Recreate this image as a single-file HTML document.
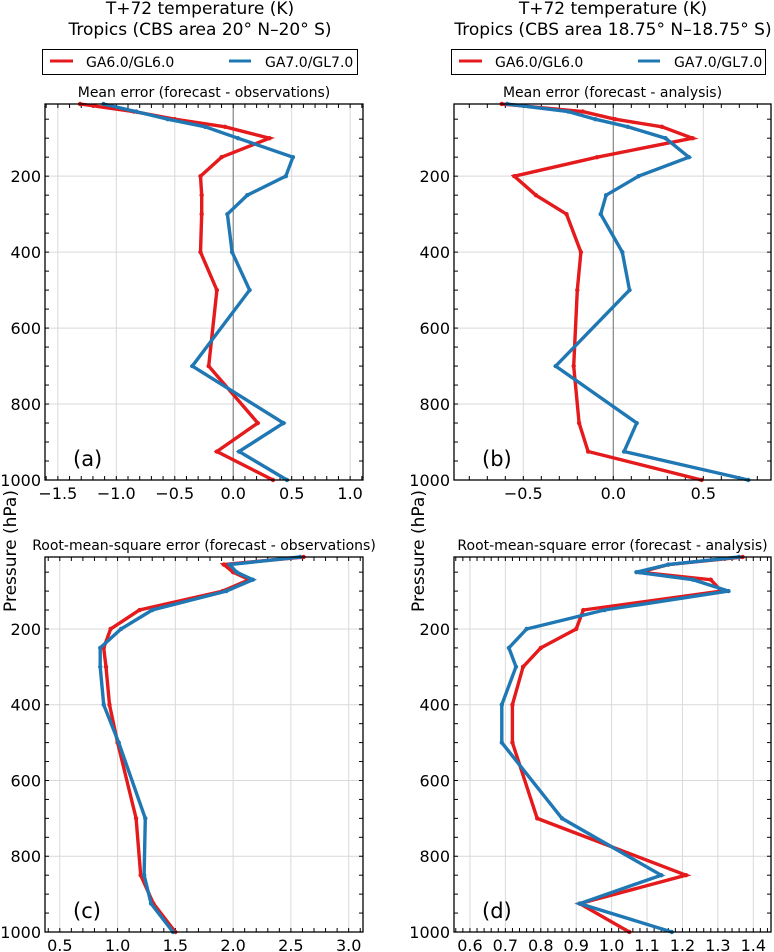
<!DOCTYPE html>
<html><head><meta charset="utf-8"><style>
html,body{margin:0;padding:0;background:#fff;width:774px;height:952px;overflow:hidden}
svg{display:block;font-family:"DejaVu Sans","Liberation Sans",sans-serif}
</style></head><body>
<svg id="chart" width="774" height="952" viewBox="0 0 774 952" xmlns="http://www.w3.org/2000/svg">
<text x="200" y="14" text-anchor="middle" font-size="17">T+72 temperature (K)</text>
<text x="200" y="35" text-anchor="middle" font-size="17">Tropics (CBS area 20° N–20° S)</text>
<text x="613" y="14" text-anchor="middle" font-size="17">T+72 temperature (K)</text>
<text x="613" y="35" text-anchor="middle" font-size="17">Tropics (CBS area 18.75° N–18.75° S)</text>
<g>
<rect x="42.5" y="49.5" width="315" height="25" fill="#fff" stroke="#000" stroke-width="1"/>
<line x1="50" y1="61" x2="73" y2="61" stroke="#e41a1c" stroke-width="3"/>
<text x="86" y="67" font-size="14">GA6.0/GL6.0</text>
<line x1="229" y1="61" x2="251" y2="61" stroke="#1f78b4" stroke-width="3"/>
<text x="265" y="67" font-size="14">GA7.0/GL7.0</text>
</g>
<g>
<rect x="451.5" y="49.5" width="314" height="25" fill="#fff" stroke="#000" stroke-width="1"/>
<line x1="459" y1="61" x2="482" y2="61" stroke="#e41a1c" stroke-width="3"/>
<text x="495" y="67" font-size="14">GA6.0/GL6.0</text>
<line x1="638" y1="61" x2="660" y2="61" stroke="#1f78b4" stroke-width="3"/>
<text x="674" y="67" font-size="14">GA7.0/GL7.0</text>
</g>
<text transform="translate(16,551) rotate(-90)" text-anchor="middle" font-size="17">Pressure (hPa)</text>
<text transform="translate(424,551) rotate(-90)" text-anchor="middle" font-size="17">Pressure (hPa)</text>
</svg>
<script>
const levels = [10,30,50,70,100,150,200,250,300,400,500,700,850,925,1000];
const yTicks = [200,400,600,800,1000];
const aRed  = [-1.31,-0.85,-0.5,-0.07,0.31,-0.10,-0.28,-0.27,-0.27,-0.28,-0.14,-0.21,0.21,-0.14,0.34];
const aBlue = [-1.11,-0.83,-0.56,-0.24,0.04,0.51,0.45,0.12,-0.05,-0.01,0.14,-0.35,0.43,0.05,0.46];
const bRed  = [-0.62,-0.17,0.01,0.27,0.44,-0.09,-0.55,-0.43,-0.26,-0.18,-0.20,-0.22,-0.19,-0.14,0.49];
const bBlue = [-0.59,-0.25,-0.10,0.08,0.29,0.42,0.14,-0.04,-0.07,0.05,0.09,-0.32,0.13,0.06,0.75];
const cRed  = [2.61,1.92,2.00,2.14,1.91,1.19,0.94,0.88,0.90,0.93,1.00,1.16,1.20,1.31,1.50];
const cBlue = [2.58,1.97,2.03,2.17,1.94,1.30,1.03,0.85,0.85,0.88,1.01,1.24,1.23,1.29,1.48];
const dRed  = [1.37,1.16,1.08,1.28,1.31,0.92,0.90,0.80,0.75,0.72,0.72,0.79,1.21,0.91,1.05];
const dBlue = [1.36,1.16,1.07,1.23,1.33,0.98,0.76,0.71,0.73,0.69,0.69,0.86,1.14,0.91,1.17];
const aTicks = [-1.5,-1.0,-0.5,0.0,0.5,1.0];
const bTicks = [-0.5,0.0,0.5];
const cTicks = [0.5,1.0,1.5,2.0,2.5,3.0];
const dTicks = [0.6,0.7,0.8,0.9,1.0,1.1,1.2,1.3,1.4];

const NS='http://www.w3.org/2000/svg';
const svg=document.getElementById('chart');
function mk(tag,attrs,parent){const e=document.createElementNS(NS,tag);for(const k in attrs)e.setAttribute(k,attrs[k]);(parent||svg).appendChild(e);return e;}

function panel(o){
  const g=mk('g',{});
  
  
  const L=o.left,R=o.right,T=o.top,B=o.bottom;
  const xs=v=>L+(v-o.xmin)/(o.xmax-o.xmin)*(R-L);
  const ys=p=>T+(p-10)/(990)*(B-T);
  o.ticks.forEach(t=>{const x=xs(t);mk('line',{x1:x,x2:x,y1:T,y2:B,stroke:'#d9d9d9','stroke-width':1},g);});
  yTicks.forEach(t=>{const y=ys(t);mk('line',{x1:L,x2:R,y1:y,y2:y,stroke:'#d9d9d9','stroke-width':1},g);});
  if(o.zero){const x=xs(0);mk('line',{x1:x,x2:x,y1:T,y2:B,stroke:'#888','stroke-width':1.2},g);}
  for(let p=50;p<1000;p+=50){const y=ys(p);mk('line',{x1:L,x2:L+4,y1:y,y2:y,stroke:'#000'},g);mk('line',{x1:R,x2:R-4,y1:y,y2:y,stroke:'#000'},g);}
  for(let v=Math.ceil(o.xmin/o.minor)*o.minor;v<=o.xmax;v+=o.minor){const x=xs(v);mk('line',{x1:x,x2:x,y1:T,y2:T+4,stroke:'#000'},g);mk('line',{x1:x,x2:x,y1:B,y2:B-4,stroke:'#000'},g);}
  [[o.red,'#e41a1c','red'],[o.blue,'#1f78b4','blue']].forEach(([vals,col,nm])=>{
    const pts=vals.map((v,i)=>xs(v).toFixed(1)+','+ys(levels[i]).toFixed(1)).join(' ');
    const pl=mk('polyline',{points:pts,fill:'none',stroke:col,'stroke-width':3.4,'stroke-linejoin':'miter'},g);
    
    
    vals.forEach((v,i)=>{mk('circle',{cx:xs(v),cy:ys(levels[i]),r:2.2,fill:col},g);});
  });
  mk('rect',{x:L,y:T,width:R-L,height:B-T,fill:'none',stroke:'#000','stroke-width':1.3},g);
  o.ticks.forEach(t=>{const tx=mk('text',{x:xs(t),y:B+19,'text-anchor':'middle','font-size':16},g);tx.textContent=t.toFixed(1).replace('-','\u2212');
    
    });
  yTicks.forEach(t=>{const tx=mk('text',{x:L-4,y:ys(t)+6,'text-anchor':'end','font-size':16},g);tx.textContent=t;
    
    });
  const st=mk('text',{x:(L+R)/2,y:T-7,'text-anchor':'middle','font-size':14},g);st.textContent=o.title;
  
  
  const lb=mk('text',{x:L+28,y:B-14,'font-size':21},g);lb.textContent='('+o.label+')';
  
  
}
panel({label:'a',left:45,right:363,top:104,bottom:480,xmin:-1.61,xmax:1.11,ticks:aTicks,minor:0.1,zero:true,red:aRed,blue:aBlue,title:'Mean error (forecast - observations)'});
panel({label:'b',left:454,right:771,top:104,bottom:480,xmin:-0.885,xmax:0.876,ticks:bTicks,minor:0.1,zero:true,red:bRed,blue:bBlue,title:'Mean error (forecast - analysis)'});
panel({label:'c',left:45,right:363,top:557,bottom:932,xmin:0.372,xmax:3.124,ticks:cTicks,minor:0.1,zero:false,red:cRed,blue:cBlue,title:'Root-mean-square error (forecast - observations)'});
panel({label:'d',left:454,right:771,top:557,bottom:932,xmin:0.555,xmax:1.45,ticks:dTicks,minor:0.02,zero:false,red:dRed,blue:dBlue,title:'Root-mean-square error (forecast - analysis)'});
</script>
</body></html>
